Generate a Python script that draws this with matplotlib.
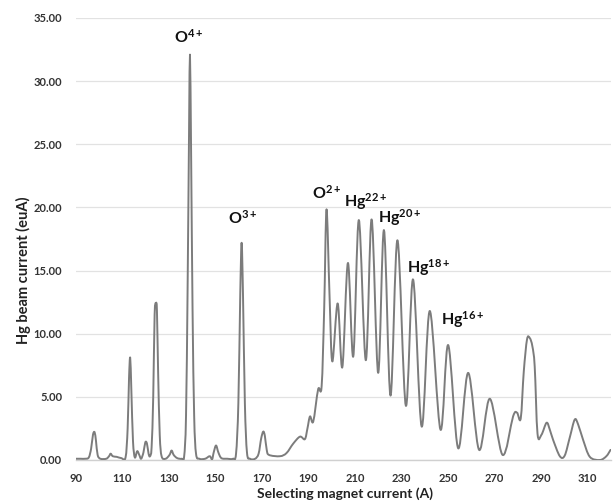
import matplotlib
matplotlib.use("Agg")
import matplotlib.pyplot as plt
from matplotlib.path import Path
from matplotlib.patches import PathPatch
import numpy as np

plt.rcParams['font.family'] = ['Lato', 'DejaVu Sans']
plt.rcParams['mathtext.fontset'] = 'custom'
plt.rcParams['mathtext.rm'] = 'Lato'
plt.rcParams['mathtext.bf'] = 'Lato:bold'
plt.rcParams['mathtext.it'] = 'Lato:italic'

# Magnet current (A) and beam current (euA)
magnet_current = [
    90.0, 92.0, 94.0, 95.5, 96.5, 97.3, 98.0, 98.6, 99.3, 100.5,
    103.0, 104.2, 104.9, 105.8, 107.5, 109.5, 111.3, 112.2, 112.8, 113.3,
    113.8, 114.5, 115.3, 116.3, 117.2, 118.0, 119.0, 119.8, 120.5, 121.2,
    121.8, 122.5, 123.2, 123.8, 124.4, 124.8, 125.3, 126.0, 126.8, 128.5,
    130.2, 131.1, 132.0, 133.5, 135.5, 136.5, 137.3, 138.0, 138.6, 139.0,
    139.5, 140.1, 140.8, 141.6, 143.0, 145.5, 147.5, 148.5, 149.2, 150.2,
    151.2, 152.5, 155.0, 157.5, 158.8, 159.8, 160.6, 161.2, 161.8, 162.6,
    163.5, 164.8, 167.0, 168.5, 169.6, 170.5, 171.2, 172.0, 173.0, 177.7,
    180.5, 183.4, 186.3, 188.4, 189.5, 190.6, 192.0, 194.1, 195.6, 196.7,
    197.7, 199.0, 200.2, 202.5, 204.5, 206.9,
    209.2, 211.6, 214.6, 217.1, 219.9,
    222.4, 225.2, 228.2, 231.8, 234.9,
    238.6, 242.1, 246.7, 250.0, 254.3,
    258.6, 263.3, 267.9, 273.4, 277.9,
    279.6, 281.2, 282.5, 283.9, 285.1, 286.2, 287.2, 288.4, 290.1, 292.3,
    293.7, 295.1, 298.0, 300.1, 302.3, 304.4, 305.9, 308.0, 310.9, 315.2,
    318.0, 319.8,
]
beam_current = [
    0.1, 0.1, 0.1, 0.2, 0.9, 2.0, 2.2, 1.5, 0.4, 0.1,
    0.1, 0.3, 0.5, 0.3, 0.25, 0.15, 0.2, 2.5, 6.5, 8.1,
    5.5, 1.5, 0.2, 0.7, 0.4, 0.1, 0.6, 1.4, 1.3, 0.5,
    0.3, 1.0, 5.0, 11.5, 12.4, 11.8, 7.0, 2.0, 0.3, 0.1,
    0.4, 0.75, 0.4, 0.15, 0.1, 0.3, 3.5, 14.0, 26.0, 32.1,
    24.0, 12.0, 3.5, 0.5, 0.1, 0.1, 0.3, 0.05, 0.6, 1.15,
    0.6, 0.15, 0.1, 0.1, 0.5, 4.5, 13.0, 17.2, 13.0, 4.5,
    0.6, 0.1, 0.1, 0.5, 1.7, 2.25, 1.9, 0.8, 0.4, 0.3,
    0.55, 1.3, 1.85, 1.65, 2.5, 3.45, 3.05, 5.6, 5.85, 12.0,
    19.85, 13.0, 7.8, 12.4, 7.35, 15.6,
    8.2, 19.0, 7.9, 19.05, 6.9,
    18.2, 5.1, 17.4, 4.3, 14.3,
    2.65, 11.8, 2.4, 9.1, 0.93,
    6.9, 0.8, 4.85, 0.4, 3.45,
    3.75, 3.3, 7.0, 9.55, 9.65, 9.0, 7.4, 2.1, 2.0, 2.95,
    2.4, 1.6, 0.3, 0.35, 1.8, 3.2, 2.8, 1.6, 0.25, 0.0,
    0.3, 0.8,
]

peak_labels = [r'$\mathbf{O^{4+}}$', r'$\mathbf{O^{3+}}$', r'$\mathbf{O^{2+}}$',
               r'$\mathbf{Hg^{22+}}$', r'$\mathbf{Hg^{20+}}$', r'$\mathbf{Hg^{18+}}$',
               r'$\mathbf{Hg^{16+}}$']
label_x = [138.6, 161.8, 197.9, 214.6, 229.2, 241.7, 256.3]
label_y = [33.5, 19.2, 21.2, 20.5, 19.2, 15.2, 11.1]

x_ticks = [90, 110, 130, 150, 170, 190, 210, 230, 250, 270, 290, 310]
y_ticks = [0, 5, 10, 15, 20, 25, 30, 35]

fig = plt.figure(figsize=(6.14, 5.04), dpi=100)
ax = fig.add_axes([76 / 614, 44 / 504, 535 / 614, 442 / 504])

# smoothed line (Excel-like) through the data points using Bezier path segments
x = np.asarray(magnet_current, float)
y = np.asarray(beam_current, float)
pts = np.column_stack([x, y])
n = len(pts)
verts = [pts[0]]
codes = [Path.MOVETO]
for i in range(n - 1):
    p0 = pts[i - 1] if i > 0 else pts[i]
    p1 = pts[i]
    p2 = pts[i + 1]
    p3 = pts[i + 2] if i + 2 < n else pts[i + 1]
    c1 = p1 + (p2 - p0) / 6.0
    c2 = p2 - (p3 - p1) / 6.0
    verts += [c1, c2, p2]
    codes += [Path.CURVE4] * 3
path = Path(verts, codes)
ax.add_patch(PathPatch(path, facecolor='none', edgecolor='#7c7c7c', lw=1.4,
                       joinstyle='round', capstyle='round', zorder=3))

for t, lx, ly in zip(peak_labels, label_x, label_y):
    ax.text(lx, ly, t, ha='center', va='center', fontsize=11.5, color='#111111')

ax.set_xlim(90, 320)
ax.set_ylim(0, 35)
ax.set_xticks(x_ticks)
ax.set_yticks(y_ticks)
ax.set_yticklabels([f'{v:.2f}' for v in y_ticks])
ax.tick_params(axis='both', length=0, labelsize=8, colors='#333333')
ax.tick_params(axis='y', pad=10)
ax.tick_params(axis='x', pad=9)
for lab in ax.get_xticklabels() + ax.get_yticklabels():
    lab.set_fontweight('bold')

ax.grid(axis='y', color='#e2e2e2', lw=0.9)
ax.set_axisbelow(True)
for s in ['left', 'right', 'top']:
    ax.spines[s].set_visible(False)
ax.spines['bottom'].set_color('#d0d0d0')
ax.spines['bottom'].set_linewidth(1.0)

fig.text(345 / 614, 1 - 494 / 504, 'Selecting magnet current (A)', ha='center', va='center',
         fontsize=10, fontweight='bold', color='#222222')
fig.text(23 / 614, 1 - 270 / 504, 'Hg beam current (euA)', ha='center', va='center',
         rotation=90, fontsize=10.5, fontweight='bold', color='#222222')

fig.savefig('out.png', dpi=100)
